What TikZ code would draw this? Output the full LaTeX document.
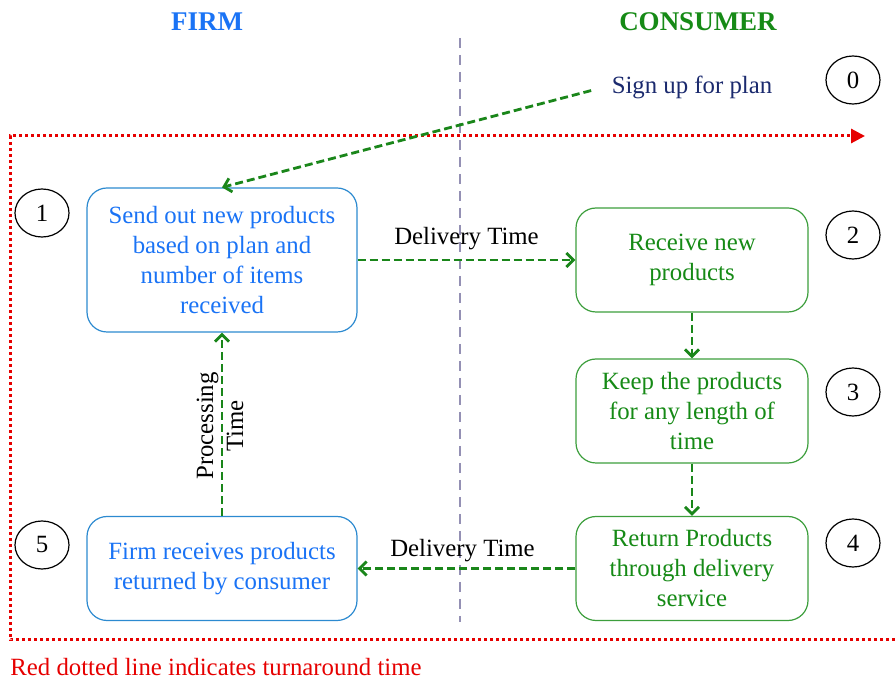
\documentclass[tikz,border=0pt]{standalone}
\usepackage{fontspec}
\setmainfont{Liberation Serif}
\usetikzlibrary{arrows.meta,shapes.geometric}

\definecolor{firmblue}{HTML}{1A73F5}
\definecolor{firmline}{HTML}{2C8AD0}
\definecolor{consgreen}{HTML}{168A16}
\definecolor{consline}{HTML}{3C9E3C}
\definecolor{flowgreen}{HTML}{1A861A}
\definecolor{planblue}{HTML}{1B2A6E}
\definecolor{divgray}{HTML}{9490B4}
\definecolor{loopred}{HTML}{E60000}

\tikzset{
    firmbox/.style={draw=firmline,text=firmblue,rounded corners=10pt,
        line width=0.6pt,minimum width=135pt,align=center},
    consbox/.style={draw=consline,text=consgreen,rounded corners=10pt,
        line width=0.6pt,minimum width=116pt,minimum height=52pt,align=center},
    stepnum/.style={draw,ellipse,line width=0.6pt,minimum width=27pt,
        minimum height=24pt,inner sep=0pt},
    flow/.style={draw=flowgreen,line width=1.4pt,dash pattern=on 4pt off 2pt,
        -{Straight Barb[length=3.5pt,width=7pt,line width=1.4pt]}},
    turnaround/.style={draw=loopred,line width=1.5pt,dash pattern=on 1.5pt off 1.5pt,
        -{Triangle[length=7pt,width=7pt,fill=loopred]}},
}

\begin{document}
\begin{tikzpicture}[x=0.5pt,y=-0.5pt,every node/.style={font=\fontsize{12.4}{15}\selectfont}]
    \useasboundingbox (0,0) rectangle (895,678);

    % column headings and the divider
    \node[text=firmblue,font=\fontsize{13.5}{16}\selectfont\bfseries] (firm) at (207,22) {FIRM};
    \node[text=consgreen,font=\fontsize{13.5}{16}\selectfont\bfseries] (cons) at (698,22) {CONSUMER};
    \draw[divgray,line width=1.3pt,dash pattern=on 5pt off 3.5pt] (460,38) -- (460,622);

    % turnaround loop
    \draw[turnaround] (895,640) -- (10,640) -- (10,136) -- (865,136);
    \node[anchor=west,text=loopred,inner sep=0pt] (legend) at (10,667)
        {Red dotted line indicates turnaround time};

    % steps
    \node[text=planblue] (plan) at (692,87) {Sign up for plan};
    \node[firmbox,minimum height=72pt] (send) at (222,260)
        {Send out new products\\based on plan and\\number of items\\received};
    \node[consbox] (recv) at (692,260) {Receive new\\products};
    \node[consbox] (keep) at (692,411) {Keep the products\\for any length of\\time};
    \node[consbox] (ret) at (692,568.5) {Return Products\\through delivery\\service};
    \node[firmbox,minimum height=52pt] (back) at (222,568.5)
        {Firm receives products\\returned by consumer};

    % step numbers
    \node[stepnum] (n0) at (853,80) {0};
    \node[stepnum] (n1) at (42,213) {1};
    \node[stepnum] (n2) at (853,235) {2};
    \node[stepnum] (n3) at (853,392) {3};
    \node[stepnum] (n4) at (853,543) {4};
    \node[stepnum] (n5) at (42,545) {5};

    % flows
    \draw[flow,shorten <=7pt] (plan.west) -- (send.north);
    \draw[flow] (send.east) -- node[above=1pt] {Delivery Time} (recv.west);
    \draw[flow] (recv.south) -- (keep.north);
    \draw[flow] (keep.south) -- (ret.north);
    \draw[flow] (ret.west) -- node[above=-0.5pt,xshift=-2pt] {Delivery Time} (back.east);
    \draw[flow] (back.north) -- (send.south);
    \node[rotate=90,align=center] (proc) at (220,426) {Processing\\Time};
\end{tikzpicture}
\end{document}
